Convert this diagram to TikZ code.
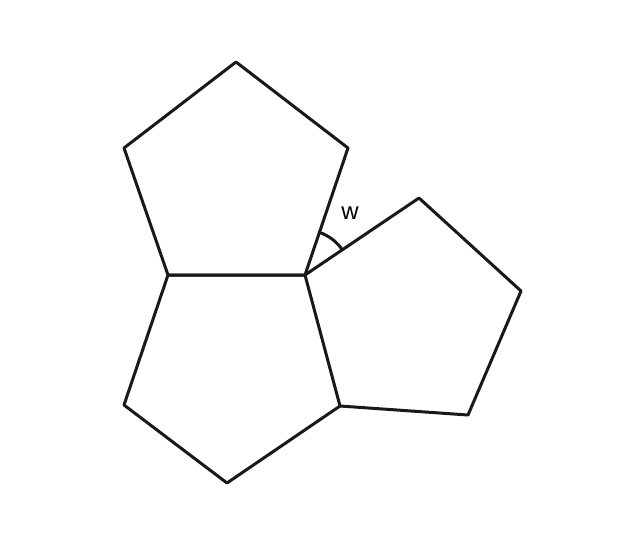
\documentclass[tikz,border=0pt]{standalone}
\usepackage{fontspec}
\setmainfont{Liberation Sans}
\usetikzlibrary{angles}
\begin{document}
\begin{tikzpicture}[x=1pt,y=-1pt,
  edge/.style={line width=3pt,draw=black!90,line join=round,line cap=round}]
\useasboundingbox (0,0) rectangle (617,538);
\coordinate (A) at (236,62);
\coordinate (B) at (348,148);
\coordinate (V) at (305,275);
\coordinate (C) at (168,275);
\coordinate (D) at (124,148);
\coordinate (E) at (340,406);
\coordinate (F) at (227,483);
\coordinate (G) at (124,405);
\coordinate (H) at (419,198);
\coordinate (I) at (521,291);
\coordinate (J) at (468,415);
\draw[edge] (A) -- (B) -- (V) -- (C) -- (D) -- cycle;
\draw[edge] (C) -- (V) -- (E) -- (F) -- (G) -- cycle;
\draw[edge] (V) -- (H) -- (I) -- (J) -- (E);
\pic[draw=black!90,line width=3pt,angle radius=45pt] {angle = H--V--B};
\node[font=\fontsize{24}{26}\selectfont] (w) at (350,213) {w};
\end{tikzpicture}
\end{document}
